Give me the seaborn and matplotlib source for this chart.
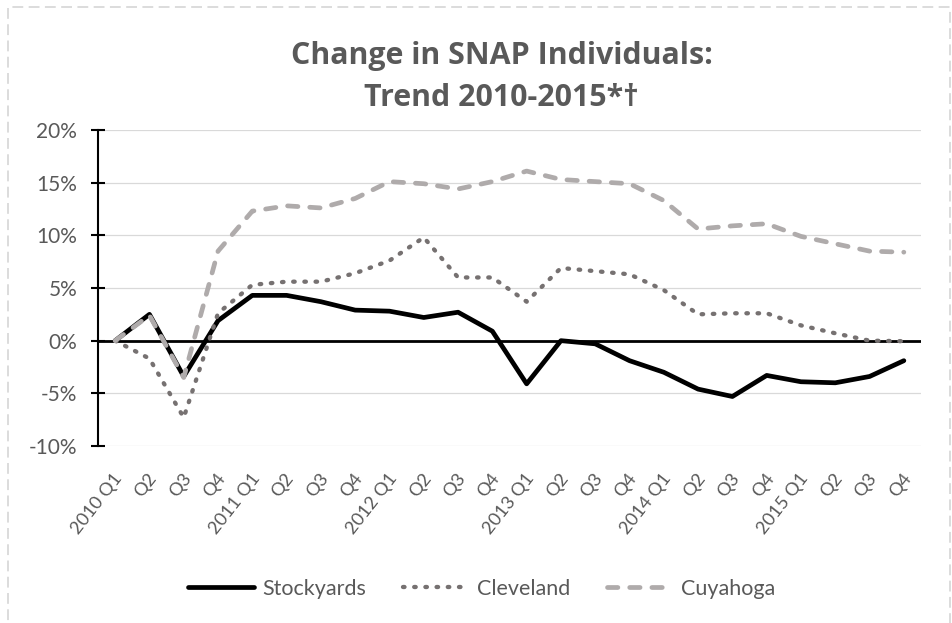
import matplotlib
matplotlib.use("Agg")
import matplotlib.pyplot as plt
from matplotlib.patches import Rectangle
from matplotlib.ticker import FuncFormatter, MultipleLocator
from matplotlib.transforms import ScaledTranslation
import seaborn as sns
import pandas as pd

quarters = ["2010 Q1", "Q2", "Q3", "Q4",
            "2011 Q1", "Q2", "Q3", "Q4",
            "2012 Q1", "Q2", "Q3", "Q4",
            "2013 Q1", "Q2", "Q3", "Q4",
            "2014 Q1", "Q2", "Q3", "Q4",
            "2015 Q1", "Q2", "Q3", "Q4"]

stockyards = [0.0, 2.5, -3.4, 1.9, 4.3, 4.3, 3.7, 2.9, 2.8, 2.2, 2.7, 0.9,
              -4.1, 0.0, -0.3, -1.9, -3.0, -4.6, -5.3, -3.3, -3.9, -4.0, -3.4, -1.9]
cleveland = [0.0, -1.7, -7.3, 2.6, 5.3, 5.6, 5.6, 6.4, 7.6, 9.8, 6.0, 6.0,
             3.7, 6.9, 6.6, 6.3, 4.8, 2.5, 2.6, 2.6, 1.45, 0.7, 0.0, -0.05]
cuyahoga = [0.0, 2.4, -3.5, 8.5, 12.3, 12.8, 12.6, 13.5, 15.1, 14.9, 14.4, 15.1,
            16.1, 15.3, 15.1, 14.9, 13.3, 10.6, 10.9, 11.1, 9.9, 9.2, 8.5, 8.4]

series_names = ["Stockyards", "Cleveland", "Cuyahoga"]
series_values = [stockyards, cleveland, cuyahoga]
colors = {"Stockyards": "#000000", "Cleveland": "#767171", "Cuyahoga": "#AFABAB"}

title_lines = ["Change in SNAP Individuals:", "Trend 2010-2015*\u2020"]

text_color = "#595959"
font = "Lato"
title_font = "Open Sans"

sns.set_theme(style="white")
plt.rcParams["font.family"] = [font, "DejaVu Sans"]

rows = []
for name, vals in zip(series_names, series_values):
    for i, v in enumerate(vals):
        rows.append({"idx": i, "quarter": quarters[i], "value": v, "series": name})
df = pd.DataFrame(rows)

W, H = 953, 623
fig = plt.figure(figsize=(W / 100, H / 100), dpi=100)
renderer = fig.canvas.get_renderer()


def fit_size(text, target_px, **kw):
    t = fig.text(0, 0, text, fontsize=10, **kw)
    w = t.get_window_extent(renderer).width
    t.remove()
    return 10 * target_px / w


ytick_fs = fit_size("20%", 41)
xtick_fs = fit_size("2010 Q1", 72)
legend_fs = fit_size("Stockyards", 104)
title_fs = fit_size(title_lines[0], 423, family=title_font, fontweight="bold")

ax = fig.add_axes([98 / W, 1 - 446 / H, (921 - 98) / W, (446 - 130) / H])

ax.set_ylim(-10, 20)
ax.set_xlim(-0.5, len(quarters) - 0.5)
ax.yaxis.set_major_locator(MultipleLocator(5))
ax.grid(axis="y", color="#D9D9D9", lw=0.9, zorder=0)
ax.grid(axis="x", visible=False)
ax.axhline(0, color="black", lw=2.0, zorder=1)

styles = {
    "Stockyards": dict(lw=3.4, ls="-"),
    "Cleveland": dict(lw=3.1, ls=(0, (0.35, 2.25))),
    "Cuyahoga": dict(lw=3.4, ls=(0, (2.2, 2.5))),
}
for name in series_names:
    sub = df[df["series"] == name]
    sns.lineplot(data=sub, x="idx", y="value", ax=ax, color=colors[name],
                 label=name, zorder=3, **styles[name])
for line in ax.get_lines()[1:]:
    line.set_dash_capstyle("round")
    line.set_solid_capstyle("round")
    line.set_solid_joinstyle("round")
    line.set_dash_joinstyle("round")

ax.set_xlabel("")
ax.set_ylabel("")
ax.set_xticks(range(len(quarters)))
ax.set_xticklabels(quarters, rotation=52, ha="right", va="center",
                   rotation_mode="anchor", fontsize=xtick_fs, color=text_color)
ax.tick_params(axis="x", length=0, pad=21)
offset = ScaledTranslation(3 / 72, 0, fig.dpi_scale_trans)
for lab in ax.get_xticklabels():
    lab.set_transform(lab.get_transform() + offset)

ax.yaxis.set_major_formatter(FuncFormatter(lambda v, p: f"{v:.0f}%"))
ax.tick_params(axis="y", direction="inout", length=10, width=1.5, color="black",
               labelsize=ytick_fs, labelcolor=text_color, pad=10, left=True)

for s in ["top", "right", "bottom"]:
    ax.spines[s].set_visible(False)
ax.spines["left"].set_color("black")
ax.spines["left"].set_linewidth(1.5)

px = 72 / 100  # points per pixel
leg = ax.legend(loc="center left", bbox_to_anchor=(188 / W, 1 - 589 / H),
                bbox_transform=fig.transFigure, ncol=3, frameon=False,
                fontsize=legend_fs, borderpad=0, borderaxespad=0,
                handlelength=66 * px / legend_fs, handletextpad=8 * px / legend_fs,
                columnspacing=37 * px / legend_fs)
for t in leg.get_texts():
    t.set_color(text_color)
for h in leg.legend_handles:
    h.set_dash_capstyle("round")
    h.set_solid_capstyle("round")

for line, base in zip(title_lines, [64, 106]):
    fig.text(0.5 * (290 + 713) / W, 1 - base / H, line, ha="center", va="baseline",
             fontsize=title_fs, fontweight="bold", family=title_font, color=text_color)

fig.patches.append(Rectangle((8 / W, -0.05), (950 - 8) / W, 1.05 - 7 / H,
                             transform=fig.transFigure, fill=False,
                             edgecolor="#D9D9D9", lw=1.3, ls=(0, (6, 3))))

fig.savefig("out.png", dpi=100)
